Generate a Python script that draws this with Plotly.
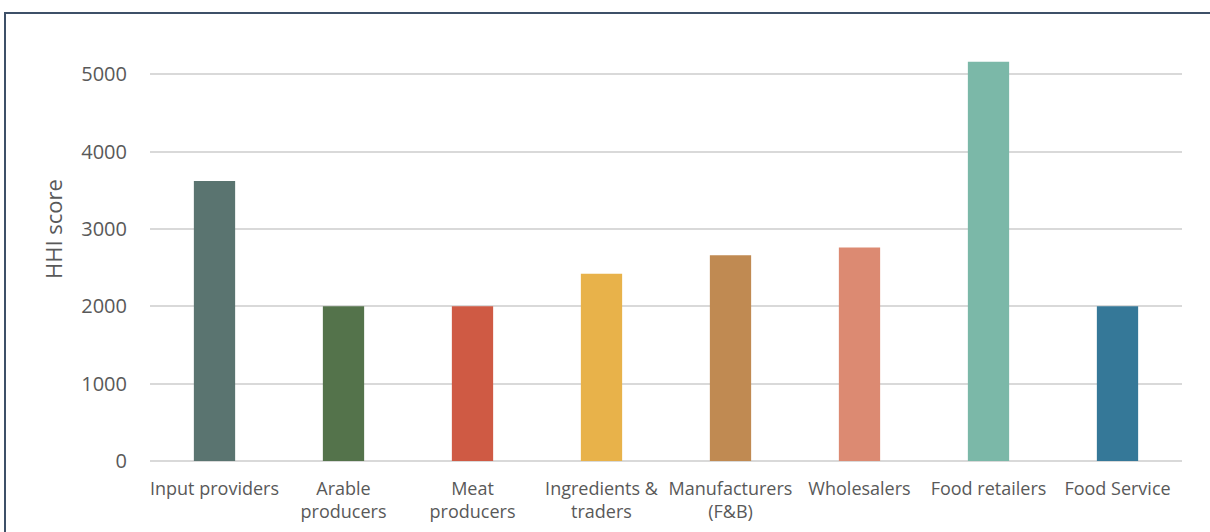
import plotly.graph_objects as go

categories = ["Input providers", "Arable<br>producers", "Meat<br>producers", "Ingredients &<br>traders",
              "Manufacturers<br>(F&B)", "Wholesalers", "Food retailers", "Food Service"]
hhi_scores = [3620, 2000, 2000, 2420, 2660, 2760, 5160, 2000]
bar_colors = ["#5a7470", "#54734b", "#cf5a44", "#e8b24a", "#c08a52", "#dc8a72", "#7bb8a8", "#357898"]
y_ticks = [0, 1000, 2000, 3000, 4000, 5000]
y_title = "HHI score"

W, H = 1210, 532
ml, mr, mt, mb = 150, 28, 51, 71

fig = go.Figure(go.Bar(x=categories, y=hhi_scores, marker=dict(color=bar_colors, line=dict(width=0)),
                       width=0.32))

pw = W - ml - mr
ph = H - mt - mb
fig.add_shape(type="rect", xref="paper", yref="paper",
              x0=(5 - ml) / pw, x1=(W + 20 - ml) / pw,
              y0=-(H + 20 - mt - ph) / ph, y1=(H - mb - 13) / ph,
              line=dict(color="#3d5068", width=2), fillcolor="rgba(0,0,0,0)", layer="below")

fig.add_annotation(text=y_title, xref="paper", yref="paper",
                   x=(53 - ml) / pw, y=(H - mb - 229) / ph, xanchor="center", yanchor="middle",
                   textangle=-90, showarrow=False, font=dict(size=22, color="#595959"))

fig.update_layout(
    width=W, height=H,
    margin=dict(l=ml, r=mr, t=mt, b=mb),
    paper_bgcolor="white", plot_bgcolor="white",
    font=dict(family="Open Sans", color="#595959"),
    showlegend=False,
    xaxis=dict(tickfont=dict(size=18), showgrid=False, showline=False, ticks="",
               ticklabelstandoff=15, automargin=False),
    yaxis=dict(range=[0, 5300], tickvals=y_ticks, tickfont=dict(size=20),
               showgrid=True, gridcolor="#d9d9d9", gridwidth=2,
               zeroline=True, zerolinecolor="#d9d9d9", zerolinewidth=2,
               ticks="", ticklen=0, showline=False, ticklabelstandoff=22, automargin=False),
)

fig.write_html("out.html", config={"displayModeBar": False},
               post_script="document.body.style.margin='0';document.body.style.overflow='hidden';")
